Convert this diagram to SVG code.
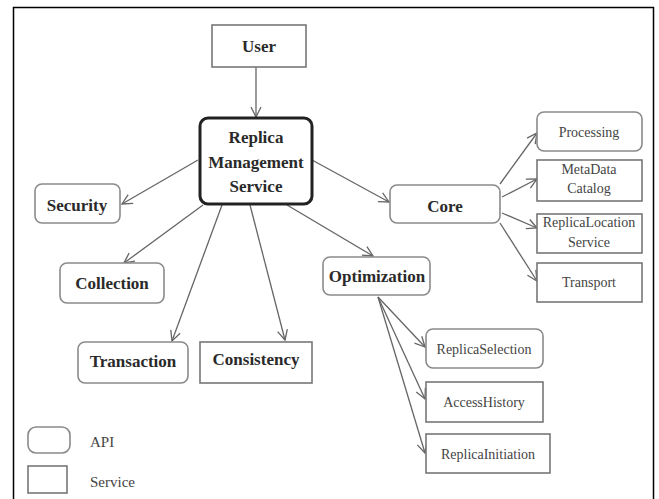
<svg xmlns="http://www.w3.org/2000/svg" width="659" height="499" viewBox="0 0 659 499">
<style>
.api{fill:#fff;stroke:#8a8a8a;stroke-width:1.6}
.svc{fill:#fff;stroke:#777;stroke-width:1.6}
.big{font-family:"Liberation Serif","Times New Roman",serif;font-weight:bold;font-size:17px;fill:#2a2a2a;text-anchor:middle}
.sm{font-family:"Liberation Serif","Times New Roman",serif;font-size:14px;fill:#444;text-anchor:middle}
.lg{font-family:"Liberation Serif","Times New Roman",serif;font-size:15px;fill:#444}
.c{stroke:#666;stroke-width:1.3;fill:none;marker-end:url(#ah)}
</style>
<defs>
<marker id="ah" markerWidth="12" markerHeight="12" refX="11" refY="6" orient="auto" markerUnits="userSpaceOnUse">
<path d="M1,1 L11,6 L1,11" fill="none" stroke="#666" stroke-width="1.3"/>
</marker>
</defs>
<rect x="0" y="0" width="659" height="499" fill="#fff"/>
<path d="M13.5,499 V7.5 H653.5 V499" fill="none" stroke="#000" stroke-width="1.5"/>
<g id="connectors">
<line class="c" x1="256" y1="67" x2="256" y2="117"/>
<line class="c" x1="198" y1="160" x2="122" y2="204"/>
<line class="c" x1="203" y1="205" x2="124" y2="263"/>
<line class="c" x1="222" y1="205" x2="172" y2="341"/>
<line class="c" x1="250" y1="205" x2="285" y2="340"/>
<line class="c" x1="312" y1="160" x2="389" y2="202"/>
<line class="c" x1="287" y1="205" x2="373" y2="256"/>
<line class="c" x1="500" y1="184" x2="537" y2="133"/>
<line class="c" x1="502" y1="197" x2="537" y2="179"/>
<line class="c" x1="502" y1="213" x2="537" y2="228"/>
<line class="c" x1="500" y1="223" x2="537" y2="281"/>
<line class="c" x1="378" y1="297" x2="425" y2="347"/>
<line class="c" x1="378" y1="297" x2="425" y2="399"/>
<line class="c" x1="378" y1="297" x2="425" y2="453"/>
</g>
<g id="user"><rect class="svc" x="212" y="25" width="94" height="42"/><text class="big" x="259" y="52">User</text></g>
<g id="rms"><rect x="200" y="118" width="112" height="86" rx="8" fill="#fff" stroke="#222" stroke-width="3"/>
<text class="big" x="256" y="143">Replica</text><text class="big" x="256" y="168">Management</text><text class="big" x="256" y="192">Service</text></g>
<g id="security"><rect class="api" x="35" y="184" width="85" height="39" rx="7"/><text class="big" x="77" y="211">Security</text></g>
<g id="collection"><rect class="api" x="60" y="263" width="104" height="40" rx="7"/><text class="big" x="112" y="289">Collection</text></g>
<g id="transaction"><rect class="api" x="78" y="342" width="110" height="41" rx="7"/><text class="big" x="133" y="367">Transaction</text></g>
<g id="consistency"><rect class="svc" x="200" y="342" width="112" height="41"/><text class="big" x="256" y="365">Consistency</text></g>
<g id="core"><rect class="api" x="390" y="185" width="110" height="38" rx="7"/><text class="big" x="445" y="212">Core</text></g>
<g id="optimization"><rect class="api" x="323" y="257" width="107" height="38" rx="7"/><text class="big" x="377" y="282">Optimization</text></g>
<g id="processing"><rect class="api" x="537" y="112" width="105" height="39" rx="7"/><text class="sm" x="589" y="137">Processing</text></g>
<g id="metadata"><rect class="svc" x="537" y="160" width="105" height="41"/><text class="sm" x="589" y="174">MetaData</text><text class="sm" x="589" y="193">Catalog</text></g>
<g id="replicalocation"><rect class="svc" x="537" y="214" width="105" height="39"/><text class="sm" x="589" y="227">ReplicaLocation</text><text class="sm" x="589" y="247">Service</text></g>
<g id="transport"><rect class="svc" x="537" y="263" width="105" height="39"/><text class="sm" x="589" y="287">Transport</text></g>
<g id="replicaselection"><rect class="api" x="426" y="329" width="117" height="39" rx="7"/><text class="sm" x="484" y="354">ReplicaSelection</text></g>
<g id="accesshistory"><rect class="svc" x="426" y="382" width="117" height="40"/><text class="sm" x="484" y="407">AccessHistory</text></g>
<g id="replicainitiation"><rect class="svc" x="426" y="434" width="124" height="39"/><text class="sm" x="488" y="459">ReplicaInitiation</text></g>
<g id="legend">
<rect class="api" x="28" y="427" width="42" height="26" rx="8"/><text class="lg" x="90" y="447">API</text>
<rect class="svc" x="28" y="466" width="39" height="27"/><text class="lg" x="90" y="487">Service</text>
</g>
</svg>
